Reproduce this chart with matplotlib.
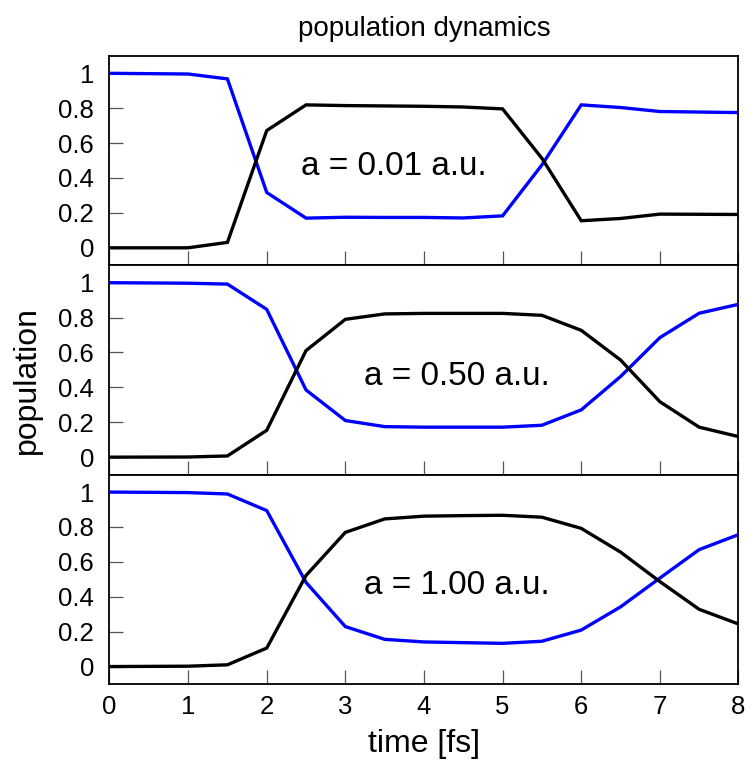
import matplotlib
matplotlib.use("Agg")
import matplotlib.pyplot as plt
from matplotlib.ticker import FixedLocator

plt.rcParams['font.family'] = ['Liberation Sans', 'DejaVu Sans']

# time grid [fs]
time = [0, 1, 1.5, 2, 2.5, 3, 3.5, 4, 4.5, 5, 5.5, 6, 6.5, 7, 7.5, 8]

# a = 0.01 a.u.
blue_001 = [1.0, 0.996, 0.968, 0.317, 0.170, 0.175, 0.174, 0.174, 0.171, 0.183,
            0.475, 0.819, 0.804, 0.781, 0.778, 0.775]
black_001 = [0.0, 0.0, 0.031, 0.672, 0.819, 0.815, 0.813, 0.811, 0.807, 0.796,
             0.513, 0.155, 0.168, 0.193, 0.192, 0.191]

# a = 0.50 a.u.
blue_050 = [1.0, 0.997, 0.992, 0.847, 0.385, 0.210, 0.175, 0.172, 0.172, 0.172,
            0.183, 0.271, 0.462, 0.685, 0.825, 0.876]
black_050 = [0.0, 0.001, 0.007, 0.154, 0.611, 0.790, 0.821, 0.824, 0.824, 0.824,
             0.813, 0.727, 0.557, 0.318, 0.172, 0.118]

# a = 1.00 a.u.
blue_100 = [1.0, 0.997, 0.989, 0.894, 0.482, 0.229, 0.156, 0.141, 0.137, 0.133,
            0.145, 0.209, 0.342, 0.507, 0.670, 0.756]
black_100 = [0.0, 0.002, 0.010, 0.106, 0.522, 0.769, 0.846, 0.862, 0.865, 0.867,
             0.856, 0.792, 0.656, 0.487, 0.328, 0.244]

panel_labels = ["a = 0.01 a.u.", "a = 0.50 a.u.", "a = 1.00 a.u."]
label_x = [3.61, 4.42, 4.42]
label_y = 0.415

x_ticks = [0, 1, 2, 3, 4, 5, 6, 7, 8]
y_ticks = [0, 0.2, 0.4, 0.6, 0.8, 1]
y_tick_labels = ["0", "0.2", "0.4", "0.6", "0.8", "1"]

panels = [(blue_001, black_001), (blue_050, black_050), (blue_100, black_100)]

fig = plt.figure(figsize=(7.52, 7.60), dpi=100)

left, width = 0.1456, 0.8364
height = 0.2755
bottom0 = 0.100

axes = []
for i, (blue, black) in enumerate(panels):
    b = bottom0 + (2 - i) * height
    ax = fig.add_axes([left, b, width, height])
    ax.plot(time, blue, color='#0000ff', lw=2.4, zorder=3, solid_joinstyle='miter')
    ax.plot(time, black, color='black', lw=2.4, zorder=3, solid_joinstyle='miter')
    ax.set_xlim(0, 8)
    ax.set_ylim(-0.1, 1.1)
    ax.xaxis.set_major_locator(FixedLocator(x_ticks))
    ax.yaxis.set_major_locator(FixedLocator(y_ticks))
    ax.set_yticklabels(y_tick_labels)
    ax.tick_params(direction='in', length=10, width=0.9, color='#555555',
                   labelsize=18.5, top=False, right=False)
    ax.tick_params(axis='y', pad=11)
    ax.tick_params(axis='x', pad=8)
    for s in ax.spines.values():
        s.set_linewidth(1.3)
        s.set_color('black')
    ax.text(label_x[i], label_y, panel_labels[i], ha='center', va='baseline',
            fontsize=24)
    if i < 2:
        ax.tick_params(labelbottom=False)
    axes.append(ax)

axes[0].set_title("population dynamics", fontsize=20, pad=14)
axes[2].set_xlabel("time [fs]", fontsize=23, labelpad=7)
fig.text(0.036, 0.5, "population", rotation=90, fontsize=23,
         ha='center', va='center')

fig.savefig("out.png", dpi=100)
